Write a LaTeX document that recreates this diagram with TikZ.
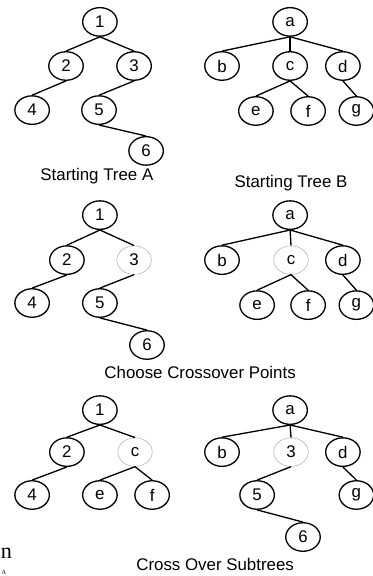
\documentclass[tikz,border=0pt]{standalone}
\usepackage{fontspec}
\setmainfont{Liberation Sans}
\newfontfamily\pageserif{Liberation Serif}
\usetikzlibrary{shapes.geometric}

\begin{document}
\begin{tikzpicture}[
    tnode/.style={ellipse, draw=black, line width=1.25pt, minimum width=1.15cm,
                  minimum height=0.95cm, inner sep=0pt,
                  font=\fontsize{16}{16}\selectfont},
    picked/.style={tnode, draw=gray!55, line width=0.6pt},
    edge/.style={line width=1.25pt},
    caption/.style={font=\fontsize{16}{16}\selectfont},
    pagetext/.style={font=\pageserif, inner sep=0pt},
  ]
  \useasboundingbox (0,0) rectangle (12.43,-19.2);
  \fill[white] (0,0) rectangle (12.43,-19.2);

  % Starting tree A
  \node[tnode] (sA1) at (3.33,-0.73) {1};
  \node[tnode] (sA2) at (2.2,-2.2)   {2};
  \node[tnode] (sA3) at (4.47,-2.2)  {3};
  \node[tnode] (sA4) at (1.07,-3.67) {4};
  \node[tnode] (sA5) at (3.3,-3.67)  {5};
  \node[tnode] (sA6) at (4.87,-5.03) {6};
  \node[caption] (capA) at (3.23,-5.87) {Starting Tree A};

  % Starting tree B
  \node[tnode] (sBa) at (9.67,-0.73) {a};
  \node[tnode] (sBb) at (7.4,-2.2)   {b};
  \node[tnode] (sBc) at (9.67,-2.2)  {c};
  \node[tnode] (sBd) at (11.43,-2.2) {d};
  \node[tnode] (sBe) at (8.53,-3.7)  {e};
  \node[tnode] (sBf) at (10.27,-3.7) {f};
  \node[tnode] (sBg) at (11.88,-3.7) {g};
  \node[caption] (capB) at (9.7,-6.1) {Starting Tree B};

  % Crossover points marked
  \node[tnode]  (cA1) at (3.33,-7.17) {1};
  \node[tnode]  (cA2) at (2.23,-8.67) {2};
  \node[picked] (cA3) at (4.47,-8.67) {3};
  \node[tnode]  (cA4) at (1.07,-10.1) {4};
  \node[tnode]  (cA5) at (3.33,-10.1) {5};
  \node[tnode]  (cA6) at (4.9,-11.5)  {6};

  \node[tnode]  (cBa) at (9.67,-7.17)   {a};
  \node[tnode]  (cBb) at (7.4,-8.67)    {b};
  \node[picked] (cBc) at (9.7,-8.67)    {c};
  \node[tnode]  (cBd) at (11.43,-8.67)  {d};
  \node[tnode]  (cBe) at (8.57,-10.17)  {e};
  \node[tnode]  (cBf) at (10.27,-10.17) {f};
  \node[tnode]  (cBg) at (11.88,-10.17) {g};
  \node[caption] (capC) at (6.67,-12.43) {Choose Crossover Points};

  % Subtrees swapped
  \node[tnode]  (xA1) at (3.33,-13.67) {1};
  \node[tnode]  (xA2) at (2.23,-15.07) {2};
  \node[picked] (xAc) at (4.5,-15.07)  {c};
  \node[tnode]  (xA4) at (1.07,-16.5)  {4};
  \node[tnode]  (xAe) at (3.33,-16.5)  {e};
  \node[tnode]  (xAf) at (5.07,-16.5)  {f};

  \node[tnode]  (xBa) at (9.67,-13.67)  {a};
  \node[tnode]  (xBb) at (7.4,-15.07)   {b};
  \node[picked] (xB3) at (9.7,-15.07)   {3};
  \node[tnode]  (xBd) at (11.43,-15.07) {d};
  \node[tnode]  (xB5) at (8.57,-16.5)   {5};
  \node[tnode]  (xBg) at (11.88,-16.5)  {g};
  \node[tnode]  (xB6) at (10.1,-17.9)   {6};
  \node[caption] (capX) at (7.17,-18.8) {Cross Over Subtrees};

  % Edges, parent to child
  \foreach \p/\c in {sA1/sA2, sA1/sA3, sA2/sA4, sA3/sA5, sA5/sA6,
                     sBa/sBb, sBa/sBc, sBa/sBd, sBc/sBe, sBc/sBf, sBd/sBg,
                     cA1/cA2, cA1/cA3, cA2/cA4, cA3/cA5, cA5/cA6,
                     cBa/cBb, cBa/cBc, cBa/cBd, cBc/cBe, cBc/cBf, cBd/cBg,
                     xA1/xA2, xA1/xAc, xA2/xA4, xAc/xAe, xAc/xAf,
                     xBa/xBb, xBa/xB3, xBa/xBd, xB3/xB5, xB5/xB6, xBd/xBg}
    \draw[edge] (\p.south) -- (\c.north);

  % Bits of the page text at the left edge
  \node[pagetext, font=\pageserif\fontsize{21}{21}\selectfont, anchor=base west]
    (pg1) at (0.02,-18.6) {n};
  \node[pagetext, font=\pageserif\fontsize{6}{6}\selectfont, anchor=south west]
    (pg2) at (0.05,-19.17) {A};
\end{tikzpicture}
\end{document}
